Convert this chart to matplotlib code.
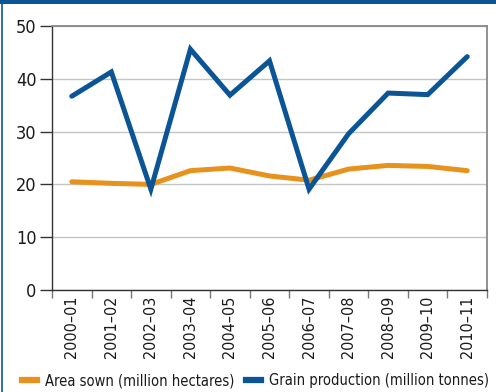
import numpy as np
import matplotlib
matplotlib.use("Agg")
import matplotlib.pyplot as plt
from matplotlib.patches import Rectangle
from matplotlib.lines import Line2D

years = ["2000–01", "2001–02", "2002–03", "2003–04", "2004–05", "2005–06",
         "2006–07", "2007–08", "2008–09", "2009–10", "2010–11"]
area_sown = [20.5, 20.2, 20.0, 22.6, 23.1, 21.6, 20.8, 22.9, 23.6, 23.4, 22.6]
grain_prod = [36.7, 41.3, 19.1, 45.6, 36.9, 43.4, 19.1, 29.6, 37.3, 37.0, 44.2]
series_names = ["Area sown (million hectares)", "Grain production (million tonnes)"]

BLUE = "#0b5596"
ORANGE = "#e8921e"

plt.rcParams["font.family"] = ["DejaVu Sans"]
plt.rcParams["font.stretch"] = "condensed"

fig = plt.figure(figsize=(4.96, 3.92), dpi=100)
ax = fig.add_axes([52 / 496, 1 - 290 / 392, 435 / 496, 264 / 392])

x = np.arange(len(years))
ax.plot(x, area_sown, color=ORANGE, lw=3.6, solid_capstyle="round",
        solid_joinstyle="miter", zorder=3)
ax.plot(x, grain_prod, color=BLUE, lw=3.6, solid_capstyle="round",
        solid_joinstyle="miter", zorder=4)

ax.set_xlim(-0.5, len(years) - 0.5)
ax.set_ylim(0, 50)
ax.set_yticks([0, 10, 20, 30, 40, 50])
ax.yaxis.grid(True, color="#c4c4c4", lw=1)
ax.set_axisbelow(True)

ax.set_xticks(x)
ax.set_xticklabels(years, rotation=90, fontsize=11.5, color="#1a1a1a")
ax.tick_params(axis="x", length=0, pad=4)
ax.set_xticks(np.arange(-0.5, len(years)), minor=True)
ax.tick_params(axis="x", which="minor", length=6, color="#777777", width=1)
ax.tick_params(axis="y", length=9, width=1, color="#333333", labelsize=13,
               labelcolor="#1a1a1a", pad=2)

for side in ["left", "bottom"]:
    ax.spines[side].set_color("#333333")
    ax.spines[side].set_linewidth(1)
for side in ["top", "right"]:
    ax.spines[side].set_color("#888888")
    ax.spines[side].set_linewidth(1.3)

# frame decoration: top bar and left rule
fig.add_artist(Rectangle((0, 1 - 4 / 392), 1, 4 / 392, transform=fig.transFigure,
                         color=BLUE, lw=0))
fig.add_artist(Line2D([2 / 496, 2 / 496], [0, 1], transform=fig.transFigure,
                      color=BLUE, lw=1.2))

# one legend per series so each entry sits at its own spot
for color, name, x0 in [(ORANGE, series_names[0], 22), (BLUE, series_names[1], 246)]:
    leg = fig.legend([Line2D([], [], color=color, lw=4.5)], [name],
                     loc="center left", bbox_to_anchor=(x0 / 496, 1 - 381 / 392),
                     frameon=False, fontsize=10.5, handlelength=1.05,
                     handletextpad=0.5, borderpad=0, borderaxespad=0,
                     labelcolor="#1a1a1a")

fig.savefig("out.png", dpi=100)
